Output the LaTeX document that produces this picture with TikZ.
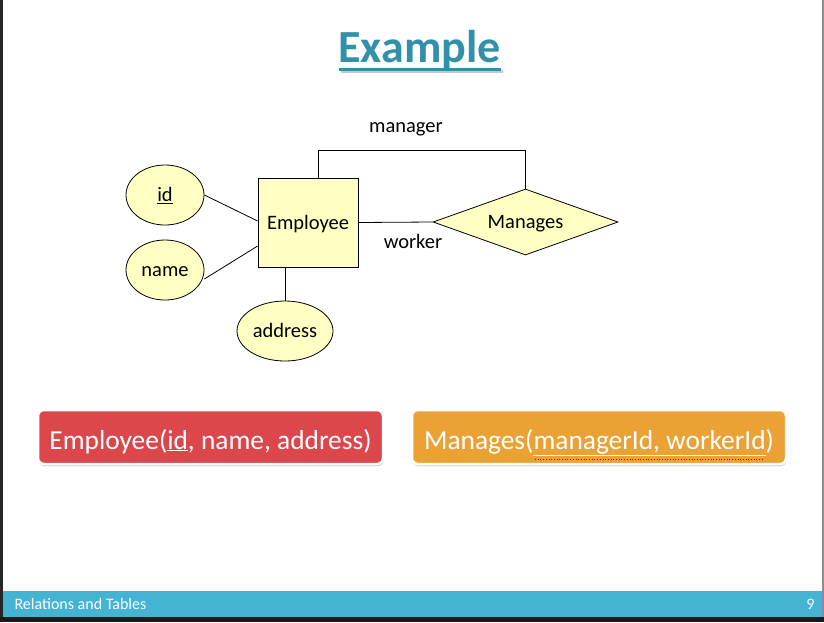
\documentclass[tikz,border=0pt]{standalone}
\usepackage{fontspec}
\setmainfont{Carlito}
\usetikzlibrary{shapes.geometric,shadows}
\definecolor{titleteal}{HTML}{3190AA}
\definecolor{erfill}{HTML}{FFFFC4}
\definecolor{relred}{HTML}{DC474C}
\definecolor{relorange}{HTML}{EBA134}
\definecolor{footblue}{HTML}{45B4D4}
\tikzset{
  ertext/.style={font=\fontsize{20.5}{24}\selectfont, text height=13pt, text depth=0pt},
  entity/.style={draw, fill=erfill, line width=0.8pt, minimum width=100pt, minimum height=89pt, inner sep=0pt, ertext},
  attr/.style={draw, fill=erfill, ellipse, line width=0.8pt, inner sep=0pt, ertext},
  relship/.style={draw, fill=erfill, diamond, line width=0.8pt, inner sep=0pt, aspect=2.8, minimum width=185pt, minimum height=66pt, ertext},
  link/.style={line width=0.8pt},
  relbox/.style={draw=white, line width=2.5pt, rounded corners=6pt, text=white,
    font=\fontsize{27.4}{32}\selectfont, text height=24pt, text depth=0pt,
    drop shadow={shadow xshift=0.5pt, shadow yshift=-2pt, opacity=0.35, fill=black!60}},
}
\begin{document}
\begin{tikzpicture}[x=1pt,y=-1pt]
  % page frame
  \fill[white] (0,0) rectangle (824,622);
  \useasboundingbox (0,0) rectangle (824,622);
  \fill[black!85] (0,0) rectangle (2.5,622);
  \fill[black!45] (821.5,0) rectangle (824,622);
  \fill[black!90] (0,617) rectangle (824,622);

  % title with its underline and a soft offset shade
  \node (title) [text=titleteal, font=\fontsize{46}{52}\bfseries\selectfont] at (419.5,50) {Example};
  \fill[black!22] (341,69.5) rectangle (503,72.5);
  \fill[titleteal] (339,67.5) rectangle (501,70.5);

  % ER diagram
  \node (emp) [entity] at (308,222.5) {Employee};
  \node (id) [attr, minimum width=78pt, minimum height=60pt] at (165,195) {\underline{id}};
  \node (name) [attr, minimum width=78pt, minimum height=60pt] at (165,270) {name};
  \node (addr) [attr, minimum width=96pt, minimum height=60pt] at (285,331) {address};
  \node (mgr) [relship] at (525.5,222) {Manages};

  \draw[link] (id.east) -- (emp.west |- 0,221);
  \draw[link] ([yshift=-9pt]name.east) -- (emp.west |- 0,246);
  \draw[link] (emp.south -| addr.north) -- (addr.north);
  \draw[link] (emp.east) -- (mgr.west);
  \coordinate (bend) at (318,150);
  \draw[link] (emp.north -| bend) -- (bend) -| (mgr.north);

  \node (lblmgr) [ertext] at (406,126) {manager};
  \node (lblwrk) [ertext] at (413,242) {worker};

  % relation schemas
  \node (remp) [relbox, fill=relred, minimum width=345pt, minimum height=54pt] at (210.5,437)
    {Employee(\underline{id}, name, address)};
  \node (rmgr) [relbox, fill=relorange, minimum width=374pt, minimum height=54pt] at (599,437)
    {Manages(\underline{managerId, workerId})};
  \draw[red!80!black, dotted, line width=0.7pt] (535,459) -- (763,459);

  % footer
  \fill[footblue] (2.5,591) rectangle (821.5,617);
  \node (foot) [anchor=west, text=white, font=\fontsize{16}{18}\selectfont] at (11,604) {Relations and Tables};
  \node (page) [anchor=east, text=white, font=\fontsize{16}{18}\selectfont] at (818,604) {9};
\end{tikzpicture}
\end{document}
